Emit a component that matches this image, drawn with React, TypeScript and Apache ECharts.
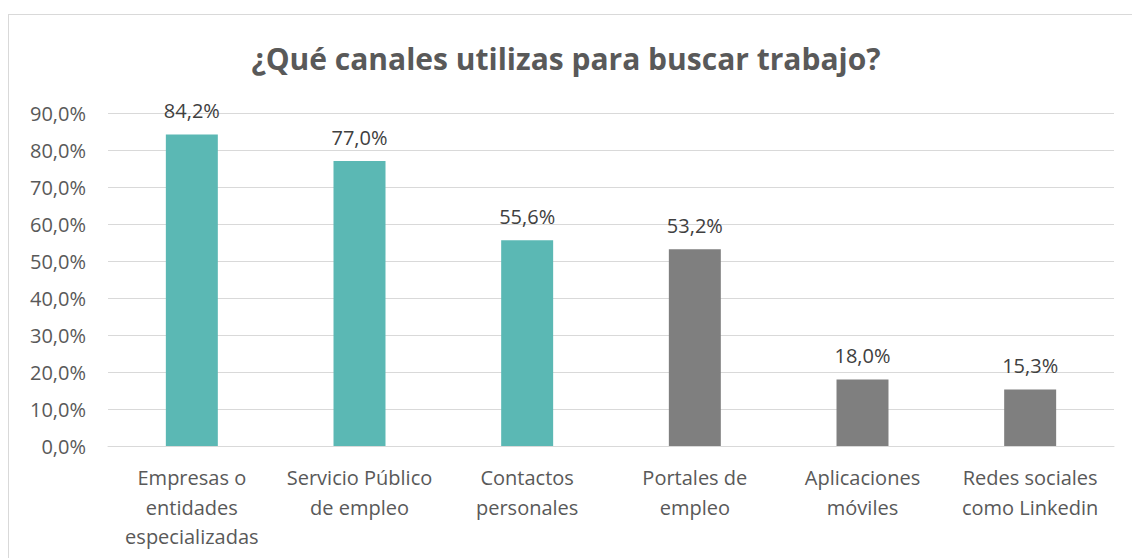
import React, { useEffect, useRef } from "react";
import * as echarts from "echarts";

const titleText = "¿Qué canales utilizas para buscar trabajo?";
const categories = [
  "Empresas o\nentidades\nespecializadas",
  "Servicio Público\nde empleo",
  "Contactos\npersonales",
  "Portales de\nempleo",
  "Aplicaciones\nmóviles",
  "Redes sociales\ncomo Linkedin",
];
const values = [84.2, 77.0, 55.6, 53.2, 18.0, 15.3];
const barColors = ["#5BB8B4", "#5BB8B4", "#5BB8B4", "#7F7F7F", "#7F7F7F", "#7F7F7F"];

const fmt = (v: number) => v.toFixed(1).replace(".", ",") + "%";
const FONT = "Open Sans";

export default function App() {
  const ref = useRef<HTMLDivElement>(null);
  useEffect(() => {
    const chart = echarts.init(ref.current!, undefined, { renderer: "svg" });
    chart.setOption({
      animation: false,
      backgroundColor: "#ffffff",
      textStyle: { fontFamily: FONT },
      title: {
        text: titleText,
        left: "center",
        top: 38,
        textStyle: { fontFamily: FONT, fontSize: 30, fontWeight: "bold", color: "#595959" },
      },
      graphic: [
        {
          type: "line",
          shape: { x1: 8, y1: 14.5, x2: 1132, y2: 14.5 },
          style: { stroke: "#D9D9D9", lineWidth: 1 },
          silent: true,
        },
        {
          type: "line",
          shape: { x1: 8.5, y1: 14, x2: 8.5, y2: 558 },
          style: { stroke: "#D9D9D9", lineWidth: 1 },
          silent: true,
        },
      ],
      grid: { left: 108, right: 18, top: 113, bottom: 112, containLabel: false, outerBoundsMode: "none" },
      xAxis: {
        type: "category",
        data: categories,
        axisTick: { show: false },
        axisLine: { show: true, lineStyle: { color: "#D9D9D9", width: 1 } },
        axisLabel: {
          interval: 0,
          margin: 17,
          fontFamily: FONT,
          fontSize: 20,
          lineHeight: 29.5,
          color: "#595959",
          verticalAlign: "top",
        },
      },
      yAxis: {
        type: "value",
        min: 0,
        max: 90,
        interval: 10,
        axisLine: { show: false },
        axisTick: { show: false },
        splitLine: { lineStyle: { color: "#D9D9D9", width: 1 } },
        axisLabel: {
          margin: 22,
          fontFamily: FONT,
          fontSize: 20,
          color: "#595959",
          formatter: (v: number) => fmt(v),
        },
      },
      series: [
        {
          type: "bar",
          barWidth: "31%",
          data: values.map((v, i) => ({ value: v, itemStyle: { color: barColors[i] } })),
          label: {
            show: true,
            position: "top",
            distance: 14,
            fontFamily: FONT,
            fontSize: 20,
            color: "#404040",
            formatter: (p: any) => fmt(p.value),
          },
        },
      ],
    });
    return () => chart.dispose();
  }, []);
  return (
    <div
      ref={ref}
      style={{ position: "fixed", left: 0, top: 0, width: 1132, height: 558 }}
    />
  );
}
